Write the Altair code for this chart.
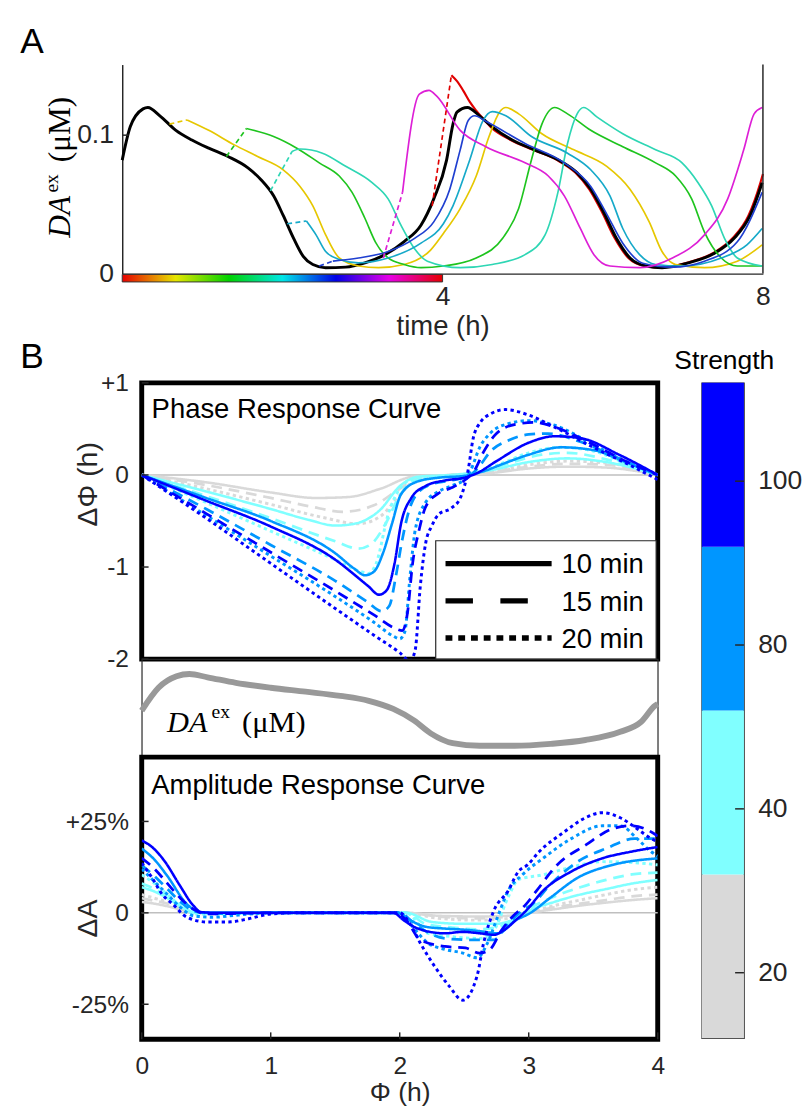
import altair as alt
import pandas as pd

FONT = "Liberation Sans"
SERIF = "Liberation Serif"
INK = "#262626"

# ====================== Panel A data (time in h, DA^ex in uM) ======================
a_black_t = [0.0, 0.10, 0.26, 0.32, 0.47, 0.67, 0.87, 1.08, 1.32, 1.57, 1.73, 1.89, 2.01, 2.14, 2.26,
             2.38, 2.54, 2.79, 3.03, 3.28, 3.52, 3.73, 3.89, 4.05, 4.13, 4.18, 4.31, 4.46, 4.62, 4.87,
             5.15, 5.44, 5.68, 5.85, 6.01, 6.17, 6.34, 6.54, 6.74, 7.07, 7.40, 7.64, 7.84, 7.99]
a_black_v = [0.082, 0.106, 0.119, 0.120, 0.114, 0.1035, 0.0965, 0.0906, 0.0846, 0.0764, 0.068, 0.0562,
             0.042, 0.0255, 0.0125, 0.0066, 0.0043, 0.0047, 0.0078, 0.0137, 0.0232, 0.035, 0.054, 0.082,
             0.108, 0.1166, 0.120, 0.114, 0.106, 0.0965, 0.0894, 0.0823, 0.0728, 0.061, 0.0445, 0.0255,
             0.0113, 0.0055, 0.0043, 0.0078, 0.0149, 0.0255, 0.042, 0.0657]

a_yellow_jump_t = [0.59, 0.81]
a_yellow_jump_v = [0.108, 0.111]
a_yellow_t = [0.81, 1.08, 1.40, 1.69, 2.01, 2.22, 2.38, 2.54, 2.71, 2.95, 3.20, 3.52, 3.85, 4.01, 4.22,
              4.42, 4.58, 4.71, 4.79, 4.95, 5.24, 5.64, 6.05, 6.34, 6.58, 6.74, 6.91, 7.27, 7.68, 7.99]
a_yellow_v = [0.111, 0.1035, 0.093, 0.0846, 0.075, 0.063, 0.049, 0.028, 0.0113, 0.0055, 0.0043, 0.0066,
              0.017, 0.029, 0.047, 0.0705, 0.099, 0.1166, 0.120, 0.1154, 0.101, 0.0894, 0.0775, 0.061,
              0.0374, 0.016, 0.0066, 0.0043, 0.009, 0.0208]

a_green_jump_t = [1.30, 1.55]
a_green_jump_v = [0.0846, 0.1048]
a_green_t = [1.55, 1.89, 2.18, 2.46, 2.71, 2.87, 3.03, 3.16, 3.32, 3.52, 3.73, 4.01, 4.42, 4.75, 4.95,
             5.11, 5.24, 5.40, 5.56, 5.85, 6.25, 6.66, 6.91, 7.11, 7.27, 7.48, 7.68, 7.99]
a_green_v = [0.1048, 0.099, 0.0906, 0.080, 0.0705, 0.0587, 0.040, 0.023, 0.0113, 0.0066, 0.0043, 0.0055,
             0.0113, 0.0255, 0.047, 0.0823, 0.108, 0.120, 0.1154, 0.1035, 0.0917, 0.080, 0.0705, 0.054,
             0.030, 0.0113, 0.0055, 0.0055]

a_turq_jump_t = [1.85, 2.12]
a_turq_jump_v = [0.0598, 0.0882]
a_turq_t = [2.12, 2.22, 2.50, 2.79, 3.12, 3.32, 3.48, 3.65, 3.81, 4.22, 4.62, 5.03, 5.28, 5.44, 5.56,
            5.68, 5.76, 5.93, 6.25, 6.66, 6.99, 7.19, 7.36, 7.52, 7.68, 7.99]
a_turq_v = [0.0882, 0.090, 0.087, 0.0775, 0.0657, 0.054, 0.035, 0.018, 0.009, 0.0043, 0.0066, 0.0137,
            0.028, 0.0587, 0.094, 0.1154, 0.120, 0.113, 0.101, 0.0894, 0.080, 0.0657, 0.049, 0.0255,
            0.0113, 0.0055]

a_teal_jump_t = [2.06, 2.30]
a_teal_jump_v = [0.036, 0.038]
a_teal_t = [2.30, 2.42, 2.54, 2.71, 2.95, 3.32, 3.73, 4.01, 4.13, 4.34, 4.50, 4.62, 4.79, 5.11, 5.56,
            5.85, 6.09, 6.25, 6.46, 6.66, 6.99, 7.48, 7.80, 7.99]
a_teal_v = [0.038, 0.028, 0.016, 0.0102, 0.0078, 0.0113, 0.022, 0.036, 0.049, 0.0823, 0.110, 0.117,
            0.114, 0.099, 0.087, 0.075, 0.0562, 0.0326, 0.0137, 0.0066, 0.0055, 0.0113, 0.0208, 0.0326]

a_blue_jump_t = [2.46, 2.63]
a_blue_jump_v = [0.0055, 0.009]
a_blue_t = [2.63, 2.95, 3.32, 3.65, 3.89, 4.09, 4.22, 4.32, 4.40, 4.54, 5.03, 5.52, 5.85, 6.05, 6.25,
            6.50, 6.87, 7.27, 7.68, 7.99]
a_blue_v = [0.009, 0.0113, 0.016, 0.0255, 0.0374, 0.061, 0.0894, 0.1106, 0.114, 0.110, 0.094, 0.080,
            0.063, 0.043, 0.022, 0.0075, 0.0047, 0.009, 0.023, 0.0587]

a_mag_jump_t = [3.26, 3.50]
a_mag_jump_v = [0.0113, 0.0587]
a_mag_t = [3.50, 3.71, 3.83, 3.93, 4.22, 4.54, 5.03, 5.32, 5.52, 5.72, 5.89, 6.09, 6.46, 6.87, 7.27,
           7.56, 7.76, 7.89, 7.99]
a_mag_v = [0.0587, 0.1296, 0.1324, 0.128, 0.1035, 0.0917, 0.080, 0.0705, 0.0562, 0.0326, 0.0137,
           0.0055, 0.0043, 0.0113, 0.028, 0.054, 0.0894, 0.1154, 0.120]

a_red_jump_t = [3.87, 4.11]
a_red_jump_v = [0.049, 0.1433]
a_red_t = [4.11, 4.18, 4.26, 4.34, 4.42, 4.52, 4.60, 4.85, 5.13, 5.42, 5.66, 5.83, 5.99, 6.15, 6.32,
           6.52, 6.72, 7.05, 7.38, 7.62, 7.82, 7.97, 8.0]
a_red_v = [0.1433, 0.139, 0.132, 0.124, 0.1177, 0.111, 0.106, 0.0965, 0.0894, 0.0823, 0.0728, 0.061,
           0.0445, 0.0255, 0.0113, 0.0055, 0.0043, 0.0078, 0.0149, 0.0255, 0.042, 0.066, 0.072]

a_curve_names = ["yellow", "green", "turquoise", "teal", "blue", "magenta", "red"]
a_curve_colors = ["#e6c700", "#1ec41e", "#2ed6b4", "#16a9c9", "#1f3fd0", "#dd1fd6", "#e00000"]

a_x_ticks = [4, 8]
a_y_ticks = [0, 0.1]
a_stim_span = [0, 4]
rainbow_colors = ["#e60000", "#e6e600", "#00d200", "#00e6e6", "#0000e6", "#e600e6", "#e60000"]
rainbow_offsets = [0.0, 0.167, 0.333, 0.5, 0.667, 0.833, 1.0]

# ====================== Panel B data ======================
strength_labels = ["20", "40", "80", "100"]
strength_colors = ["#d9d9d9", "#80ffff", "#0096ff", "#0000ff"]
duration_keys = ["10", "15", "20"]
duration_labels = ["10 min", "15 min", "20 min"]

# Phase response curves (phi in h, delta phi in h)
prc_20_10_phi = [0, 0.5, 1.0, 1.35, 1.6, 1.85, 2.1, 2.4, 2.7, 3.0, 3.3, 3.6, 4.0]
prc_20_10_val = [0, -0.08, -0.19, -0.25, -0.24, -0.15, -0.02, 0, 0.02, 0.07, 0.09, 0.08, 0]
prc_20_15_phi = [0, 0.5, 1.0, 1.3, 1.56, 1.8, 2.0, 2.15, 2.4, 2.7, 3.0, 3.3, 3.6, 4.0]
prc_20_15_val = [0, -0.11, -0.25, -0.34, -0.40, -0.33, -0.15, -0.03, 0, 0.03, 0.09, 0.12, 0.11, 0]
prc_20_20_phi = [0, 0.5, 1.0, 1.4, 1.68, 1.85, 2.0, 2.15, 2.4, 2.7, 3.0, 3.3, 3.6, 4.0]
prc_20_20_val = [0, -0.15, -0.32, -0.46, -0.53, -0.45, -0.22, -0.03, 0, 0.03, 0.11, 0.15, 0.13, 0]
prc_40_10_phi = [0, 0.5, 1.0, 1.3, 1.5, 1.65, 1.84, 2.01, 2.14, 2.4, 2.7, 3.0, 3.3, 3.6, 4.0]
prc_40_10_val = [0, -0.18, -0.37, -0.49, -0.55, -0.53, -0.39, -0.11, -0.02, 0, 0.05, 0.14, 0.18, 0.14, 0]
prc_40_15_phi = [0, 0.5, 1.0, 1.5, 1.68, 1.78, 1.89, 1.99, 2.1, 2.3, 2.5, 2.7, 2.9, 3.1, 3.3, 3.6, 4.0]
prc_40_15_val = [0, -0.23, -0.47, -0.72, -0.80, -0.75, -0.53, -0.25, -0.07, -0.02, 0.0, 0.06, 0.15, 0.22,
                 0.24, 0.17, 0]
prc_40_20_phi = [0, 0.5, 1.0, 1.5, 1.7, 1.76, 1.82, 1.91, 2.0, 2.1, 2.3, 2.5, 2.65, 2.8, 3.0, 3.25, 3.5,
                 3.75, 4.0]
prc_40_20_val = [0, -0.3, -0.61, -0.92, -1.05, -1.07, -0.95, -0.43, -0.15, -0.05, -0.02, 0.0, 0.05, 0.13,
                 0.24, 0.30, 0.26, 0.13, 0]
prc_80_10_phi = [0, 0.5, 1.0, 1.5, 1.65, 1.73, 1.8, 1.87, 1.94, 2.01, 2.14, 2.3, 2.5, 2.65, 2.8, 3.0,
                 3.25, 3.5, 3.75, 4.0]
prc_80_10_val = [0, -0.25, -0.5, -0.85, -1.02, -1.09, -1.05, -0.85, -0.53, -0.21, -0.07, -0.03, -0.01,
                 0.04, 0.12, 0.22, 0.30, 0.27, 0.14, 0]
prc_80_15_phi = [0, 0.5, 1.0, 1.5, 1.75, 1.86, 1.92, 1.97, 2.02, 2.08, 2.15, 2.25, 2.4, 2.55, 2.62, 2.7,
                 2.85, 3.0, 3.15, 3.4, 3.7, 4.0]
prc_80_15_val = [0, -0.37, -0.76, -1.15, -1.38, -1.48, -1.42, -1.1, -0.7, -0.35, -0.18, -0.1, -0.06, 0.0,
                 0.1, 0.25, 0.38, 0.44, 0.45, 0.36, 0.18, 0]
prc_80_20_phi = [0, 0.5, 1.0, 1.5, 1.8, 1.95, 2.0, 2.04, 2.08, 2.12, 2.2, 2.3, 2.4, 2.5, 2.55, 2.62, 2.7,
                 2.85, 3.0, 3.2, 3.5, 3.75, 4.0]
prc_80_20_val = [0, -0.44, -0.88, -1.32, -1.6, -1.75, -1.78, -1.7, -1.1, -0.6, -0.3, -0.18, -0.12, -0.05,
                 0.05, 0.3, 0.45, 0.56, 0.59, 0.54, 0.33, 0.15, 0]
prc_100_10_phi = [0, 0.5, 1.0, 1.5, 1.75, 1.84, 1.9, 1.96, 2.01, 2.09, 2.2, 2.35, 2.5, 2.6, 2.75, 3.0,
                  3.2, 3.4, 3.7, 4.0]
prc_100_10_val = [0, -0.28, -0.56, -0.92, -1.2, -1.30, -1.25, -0.96, -0.53, -0.25, -0.12, -0.06, -0.03,
                  0.02, 0.15, 0.35, 0.42, 0.40, 0.22, 0]
prc_100_15_phi = [0, 0.5, 1.0, 1.5, 1.8, 1.97, 2.02, 2.06, 2.1, 2.15, 2.2, 2.3, 2.4, 2.5, 2.58, 2.65,
                  2.75, 2.9, 3.05, 3.2, 3.5, 3.75, 4.0]
prc_100_15_val = [0, -0.42, -0.84, -1.26, -1.52, -1.67, -1.69, -1.5, -0.96, -0.6, -0.35, -0.2, -0.14,
                  -0.06, 0.05, 0.25, 0.45, 0.55, 0.57, 0.52, 0.33, 0.15, 0]
prc_100_20_phi = [0, 0.5, 1.0, 1.5, 1.8, 2.0, 2.08, 2.12, 2.16, 2.2, 2.25, 2.3, 2.4, 2.47, 2.53, 2.57,
                  2.63, 2.7, 2.82, 3.0, 3.2, 3.5, 3.75, 4.0]
prc_100_20_val = [0, -0.47, -0.96, -1.45, -1.74, -1.93, -2.02, -1.9, -1.2, -0.75, -0.55, -0.43, -0.36,
                  -0.25, 0.05, 0.4, 0.58, 0.66, 0.71, 0.65, 0.52, 0.30, 0.13, -0.05]

# Amplitude response curves (phi in h, delta A in %)
arc_20_phi = [0, 0.1, 0.2, 0.3, 0.42, 1.0, 1.5, 2.05, 2.3, 2.6, 2.85, 3.0, 3.2, 3.4, 3.6, 3.8, 4.0]
arc_20_10_val = [3, 2.5, 1.8, 0.9, 0, 0, 0, 0, -0.8, -1, -0.8, 0, 1, 2, 2.8, 3.5, 4]
arc_20_15_val = [4, 3.3, 2.5, 1.2, 0, 0, 0, 0, -1, -1.5, -1, 0, 1.5, 2.5, 3.5, 4.5, 5]
arc_20_20_val = [5, 4, 3, 1.5, 0, 0, 0, 0, -1.5, -2, -1.5, 0, 2, 3.5, 5, 6.3, 7]
arc_40_10_phi = [0, 0.1, 0.2, 0.3, 0.42, 1.0, 1.5, 2.05, 2.25, 2.5, 2.75, 2.9, 3.0, 3.2, 3.4, 3.6, 3.8, 4.0]
arc_40_10_val = [7, 5.8, 4, 1.8, 0, 0, 0, 0, -2.5, -3, -3, -1.5, 0.5, 3, 5, 6.5, 8, 9]
arc_40_15_phi = [0, 0.1, 0.2, 0.3, 0.42, 0.6, 1.0, 1.5, 2.05, 2.2, 2.4, 2.6, 2.75, 2.9, 3.0, 3.2, 3.4,
                 3.6, 3.8, 4.0]
arc_40_15_val = [8, 6.5, 4.5, 2, 0, -0.2, 0, 0, 0, -3, -4, -4.5, -4, -1.5, 1, 4.5, 7, 9, 10.5, 11]
arc_40_20_phi = [0, 0.1, 0.2, 0.3, 0.42, 0.6, 1.0, 1.5, 2.05, 2.22, 2.4, 2.62, 2.73, 2.84, 2.92, 3.11,
                 3.3, 3.57, 3.87, 4.0]
arc_40_20_val = [10.4, 8, 5, 2, -0.3, -0.3, 0, 0, 0, -5.6, -6.5, -7, -4.7, 4.2, 9.1, 10.4, 12.2, 14,
                 13.6, 13.1]
arc_80_10_phi = [0, 0.1, 0.2, 0.35, 0.45, 0.6, 1.0, 1.5, 1.98, 2.08, 2.2, 2.35, 2.5, 2.62, 2.76, 2.9,
                 3.0, 3.17, 3.38, 3.65, 4.0]
arc_80_10_val = [17.6, 14.5, 10, 2.4, 0.2, 0, 0, 0, 0, -2, -3.8, -4.3, -4.6, -5, -5.6, -2, -0.3, 4.2,
                 9.6, 13.1, 14.9]
arc_80_15_phi = [0, 0.1, 0.2, 0.3, 0.42, 0.6, 1.0, 1.5, 2.0, 2.1, 2.2, 2.35, 2.57, 2.73, 2.84, 2.95,
                 3.03, 3.17, 3.38, 3.6, 3.82, 4.0]
arc_80_15_val = [13, 10, 6.5, 3, 0.3, -0.2, 0, 0, 0, -2.5, -5, -7, -7.4, -7.4, -3, 0.6, 2.4, 7.8, 14,
                 17.6, 20.3, 20.3]
arc_80_20_phi = [0, 0.1, 0.2, 0.3, 0.4, 0.55, 0.75, 1.0, 1.5, 2.0, 2.08, 2.22, 2.35, 2.49, 2.6, 2.68,
                 2.76, 2.84, 2.95, 3.11, 3.33, 3.57, 3.71, 3.84, 3.95, 4.0]
arc_80_20_val = [12, 8.5, 5, 1.5, -0.8, -1.2, -0.6, 0, 0, 0, -3, -8.3, -10, -11, -12.3, -8.3, -1, 6,
                 10.4, 14.9, 20.3, 23.8, 23.8, 20.3, 16.7, 15.5]
arc_100_10_phi = [0, 0.08, 0.18, 0.29, 0.40, 0.46, 0.6, 1.0, 1.5, 1.95, 2.03, 2.14, 2.35, 2.49, 2.62,
                  2.73, 2.81, 2.9, 2.98, 3.11, 3.33, 3.57, 3.79, 4.0]
arc_100_10_val = [19.8, 18, 14, 7.8, 2, 0.2, 0, 0, 0, 0, -2, -4.3, -5.6, -5.2, -5.6, -6, -4.7, -2, 0.6,
                  6, 11.3, 14.9, 16.7, 18]
arc_100_15_phi = [0, 0.1, 0.2, 0.3, 0.4, 0.5, 0.7, 1.0, 1.5, 1.97, 2.05, 2.16, 2.35, 2.51, 2.62, 2.7,
                  2.79, 2.87, 2.98, 3.06, 3.22, 3.44, 3.65, 3.79, 3.9, 4.0]
arc_100_15_val = [15, 12, 8, 4, 1, -0.3, -0.2, 0, 0, 0, -2, -7.4, -9.2, -9.6, -11, -10, -4.7, -1.2, 2.4,
                  6, 13.1, 18.5, 23, 23.8, 23, 21]
arc_100_20_phi = [0, 0.08, 0.16, 0.24, 0.35, 0.51, 0.67, 0.83, 1.0, 1.2, 1.5, 2.0, 2.08, 2.16, 2.27,
                  2.38, 2.49, 2.6, 2.65, 2.73, 2.84, 2.92, 2.99, 3.08, 3.27, 3.44, 3.57, 3.71, 3.84,
                  3.95, 4.0]
arc_100_20_val = [13.6, 9.6, 5, 2.4, -1.2, -2.5, -2.5, -1.6, -0.3, 0, 0, 0, -3, -8.3, -14.6, -19.9,
                  -23.9, -17.2, -8.3, 0.6, 6, 11.3, 13.1, 16.7, 22, 26, 27.4, 26, 23, 20.3, 19.5]

# DA^ex over one cycle (strip between the two panels)
da_phi = [0, 0.13, 0.27, 0.37, 0.51, 0.73, 1.0, 1.27, 1.54, 1.76, 1.95, 2.11, 2.24, 2.41, 2.62, 2.89,
          3.17, 3.44, 3.71, 3.87, 3.98, 4.0]
da_val = [0.0614, 0.098, 0.1164, 0.120, 0.1148, 0.1059, 0.098, 0.0917, 0.085, 0.0771, 0.0641, 0.0457,
          0.0249, 0.0092, 0.005, 0.005, 0.0081, 0.0143, 0.0274, 0.0431, 0.0693, 0.072]

prc_y_ticks = [-2, -1, 0, 1]
arc_y_ticks = [-25, 0, 25]
phi_ticks = [0, 1, 2, 3, 4]
cbar_tick_pos = [0.4, 1.4, 2.4, 3.4]

# ====================== geometry (pixels) ======================
A_OFF = 19.9          # panel A axis starts this far left of panel B's axis
A_W, A_H = 634.1, 213.4
B_W = 526.7
PRC_H, STRIP_H, ARC_H = 282, 99.5, 288
CB_W, CB_H = 43, 669
DUMMY = pd.DataFrame({"k": [0]})


def rows(name, xs, ys, **tags):
    assert len(xs) == len(ys), name
    return [dict(curve=name, x=x, y=y, i=i, **tags) for i, (x, y) in enumerate(zip(xs, ys))]


def label(text, x, y, size, **kw):
    kw.setdefault("font", FONT)
    kw.setdefault("color", "black")
    kw.setdefault("align", "left")
    kw.setdefault("baseline", "alphabetic")
    return alt.Chart(DUMMY).mark_text(text=text, fontSize=size, **kw).encode(
        x=alt.value(x), y=alt.value(y))


# ====================== Panel A ======================
xA = alt.Scale(domain=[0, 8], range=[-A_OFF, A_W], nice=False, zero=False)
yA = alt.Scale(domain=[0, 0.151], nice=False)
xA_axis = alt.Axis(values=a_x_ticks, labelFontSize=27, labelPadding=11, labelFlush=False,
                   ticks=False, tickSize=0, grid=False, domainColor=INK, domainWidth=1.5,
                   title="time (h)", titleFontSize=28, titlePadding=3.6)
yA_axis = alt.Axis(values=a_y_ticks, labelExpr="datum.value == 0 ? '0' : '0.1'", labelFontSize=27,
                   labelPadding=9, ticks=False, tickSize=0, grid=False, domainColor=INK,
                   domainWidth=1.5, title=None, offset=A_OFF)


def XA(f):
    return alt.X(f, type="quantitative", scale=xA, axis=xA_axis)


def YA(f):
    return alt.Y(f, type="quantitative", scale=yA, axis=yA_axis)


solid_pairs = [("yellow", a_yellow_t, a_yellow_v), ("green", a_green_t, a_green_v),
               ("turquoise", a_turq_t, a_turq_v), ("teal", a_teal_t, a_teal_v),
               ("blue", a_blue_t, a_blue_v), ("magenta", a_mag_t, a_mag_v)]
jump_pairs = [("yellow", a_yellow_jump_t, a_yellow_jump_v), ("green", a_green_jump_t, a_green_jump_v),
              ("turquoise", a_turq_jump_t, a_turq_jump_v), ("teal", a_teal_jump_t, a_teal_jump_v),
              ("blue", a_blue_jump_t, a_blue_jump_v), ("magenta", a_mag_jump_t, a_mag_jump_v),
              ("red", a_red_jump_t, a_red_jump_v)]
solid_df = pd.DataFrame(sum([rows(n, t, v) for n, t, v in solid_pairs], []))
jump_df = pd.DataFrame(sum([rows(n, t, v) for n, t, v in jump_pairs], []))
red_df = pd.DataFrame(rows("red", a_red_t, a_red_v))
black_df = pd.DataFrame(rows("black", a_black_t, a_black_v))
a_color = alt.Color("curve:N", scale=alt.Scale(domain=a_curve_names, range=a_curve_colors), legend=None)

a_red = alt.Chart(red_df).mark_line(color="#e00000", strokeWidth=2.2, interpolate="monotone").encode(
    x=XA("x"), y=YA("y"), order="i:Q")
a_black = alt.Chart(black_df).mark_line(color="black", strokeWidth=3.0, interpolate="monotone").encode(
    x=XA("x"), y=YA("y"), order="i:Q")
a_solid = alt.Chart(solid_df).mark_line(strokeWidth=1.7, interpolate="monotone").encode(
    x=XA("x"), y=YA("y"), color=a_color, order="i:Q")
a_jump = alt.Chart(jump_df).mark_line(strokeWidth=1.7, strokeDash=[5, 3.5]).encode(
    x=XA("x"), y=YA("y"), color=a_color, order="i:Q")

rainbow = alt.Gradient(gradient="linear", x1=0, x2=1, y1=0, y2=0,
                       stops=[alt.GradientStop(color=c, offset=o)
                              for c, o in zip(rainbow_colors, rainbow_offsets)])
a_bar = alt.Chart(pd.DataFrame({"s": [a_stim_span[0]], "e": [a_stim_span[1]]})).mark_rect(
    fill=rainbow, stroke="#333333", strokeWidth=1).encode(
    x=XA("s"), x2="e:Q", y=alt.value(A_H + 0.8), y2=alt.value(A_H + 8.5))
a_spine = alt.Chart(pd.DataFrame({"v": [8]})).mark_rule(color=INK, strokeWidth=1.5).encode(
    x=XA("v"), y=alt.value(0), y2=alt.value(A_H))
a_ytick = alt.Chart(pd.DataFrame({"v": [0.1]})).mark_rule(color=INK, strokeWidth=1.5).encode(
    y=YA("v"), x=alt.value(-A_OFF), x2=alt.value(-A_OFF + 6.5))

a_ylabel_parts = ["DA", "ex", "(μM)"]
YL_X, YL_Y = -53.7 - A_OFF, 176.7
a_yl1 = label(a_ylabel_parts[0], YL_X, YL_Y, 32, font=SERIF, fontStyle="italic", angle=270)
a_yl2 = label(a_ylabel_parts[1], YL_X, YL_Y, 20, font=SERIF, angle=270, dx=46, dy=-12)
a_yl3 = label(a_ylabel_parts[2], YL_X, YL_Y, 32, font=SERIF, angle=270, dx=77)
a_letter = label("A", -104.2 - A_OFF, -12.3, 36)

panel_a = alt.layer(a_red, a_black, a_solid, a_jump, a_bar, a_spine, a_ytick,
                    a_yl1, a_yl2, a_yl3, a_letter).properties(width=A_W, height=A_H)

# ====================== Panel B ======================
xB = alt.Scale(domain=[0, 4], nice=False, zero=False)
yP = alt.Scale(domain=[-2, 1], nice=False, zero=False)
yS = alt.Scale(domain=[-0.0123, 0.1439], nice=False, zero=False)
yR = alt.Scale(domain=[-34.57, 42.6], nice=False, zero=False)
yC = alt.Scale(domain=[0, 4], nice=False, zero=False)

prc_axis = alt.Axis(values=prc_y_ticks,
                    labelExpr="datum.value > 0 ? '+' + datum.value : (datum.value < 0 ? '-' + abs(datum.value) : '0')",
                    labelFontSize=25, labelPadding=13.5, ticks=False, tickSize=0, domain=False,
                    grid=False, title=None)
arc_axis = alt.Axis(values=arc_y_ticks,
                    labelExpr="datum.value > 0 ? '+' + datum.value + '%' : (datum.value < 0 ? '-' + abs(datum.value) + '%' : '0')",
                    labelFontSize=25, labelPadding=13.5, ticks=False, tickSize=0, domain=False,
                    grid=False, title=None)
arc_x_axis = alt.Axis(values=phi_ticks, labelFontSize=25, labelPadding=15, labelFlush=False,
                      ticks=False, tickSize=0, domain=False, grid=False, title="Φ (h)",
                      titleFontSize=27, titlePadding=1.7)


def curves_df(entries):
    out = []
    for s, d, xs, ys in entries:
        out += rows(f"{s}_{d}", xs, ys, strength=s, dur=d)
    return pd.DataFrame(out)


prc_df = curves_df([
    ("20", "10", prc_20_10_phi, prc_20_10_val), ("20", "15", prc_20_15_phi, prc_20_15_val),
    ("20", "20", prc_20_20_phi, prc_20_20_val), ("40", "10", prc_40_10_phi, prc_40_10_val),
    ("40", "15", prc_40_15_phi, prc_40_15_val), ("40", "20", prc_40_20_phi, prc_40_20_val),
    ("80", "10", prc_80_10_phi, prc_80_10_val), ("80", "15", prc_80_15_phi, prc_80_15_val),
    ("80", "20", prc_80_20_phi, prc_80_20_val), ("100", "10", prc_100_10_phi, prc_100_10_val),
    ("100", "15", prc_100_15_phi, prc_100_15_val), ("100", "20", prc_100_20_phi, prc_100_20_val)])
arc_df = curves_df([
    ("20", "10", arc_20_phi, arc_20_10_val), ("20", "15", arc_20_phi, arc_20_15_val),
    ("20", "20", arc_20_phi, arc_20_20_val), ("40", "10", arc_40_10_phi, arc_40_10_val),
    ("40", "15", arc_40_15_phi, arc_40_15_val), ("40", "20", arc_40_20_phi, arc_40_20_val),
    ("80", "10", arc_80_10_phi, arc_80_10_val), ("80", "15", arc_80_15_phi, arc_80_15_val),
    ("80", "20", arc_80_20_phi, arc_80_20_val), ("100", "10", arc_100_10_phi, arc_100_10_val),
    ("100", "15", arc_100_15_phi, arc_100_15_val), ("100", "20", arc_100_20_phi, arc_100_20_val)])

s_color = alt.Color("strength:N", scale=alt.Scale(domain=strength_labels, range=strength_colors),
                    legend=None)
d_dash = alt.StrokeDash("dur:N", scale=alt.Scale(domain=duration_keys,
                                                   range=[[1, 0], [11, 7], [3.4, 3.4]]), legend=None)
d_width = alt.StrokeWidth("dur:N", scale=alt.Scale(domain=duration_keys, range=[2.6, 3.0, 3.4]),
                          legend=None)


def response_layers(df, yscale, yaxis, xaxis):
    zero = alt.Chart(pd.DataFrame({"v": [0]})).mark_rule(color="#bfbfbf", strokeWidth=1.5).encode(
        y=alt.Y("v:Q", scale=yscale, axis=yaxis))
    lines = alt.Chart(df).mark_line(clip=True, interpolate="monotone").encode(
        x=alt.X("x:Q", scale=xB, axis=xaxis), y=alt.Y("y:Q", scale=yscale, axis=yaxis),
        color=s_color, strokeDash=d_dash, strokeWidth=d_width, detail="curve:N", order="i:Q")
    return zero, lines


p_zero, p_lines = response_layers(prc_df, yP, prc_axis, None)
p_ticks = alt.Chart(pd.DataFrame({"v": prc_y_ticks})).mark_rule(color=INK, strokeWidth=1.5).encode(
    y=alt.Y("v:Q", scale=yP, axis=prc_axis), x=alt.value(0), x2=alt.value(7))
p_title = label("Phase Response Curve", 10.1, 36.2, 28)
p_letter = label("B", -124.1, -15.5, 36)
p_ylabel = label("ΔΦ (h)", -45.6, 103.5, 29, angle=270, align="center", color=INK)
leg_box = alt.Chart(DUMMY).mark_rect(fill="white", stroke=INK, strokeWidth=1.2).encode(
    x=alt.value(300.1), x2=alt.value(525.1), y=alt.value(161.2), y2=alt.value(PRC_H))
leg_dashes = [[1, 0], [28, 28], [7, 6]]
leg_rows_y = [184.5, 222.5, 260.5]
leg_layers = []
for lab, dash, yy in zip(duration_labels, leg_dashes, leg_rows_y):
    leg_layers.append(alt.Chart(DUMMY).mark_rule(color="black", strokeWidth=5.5, strokeDash=dash).encode(
        x=alt.value(310.1), x2=alt.value(418.4), y=alt.value(yy), y2=alt.value(yy)))
    leg_layers.append(label(lab, 428.4, yy + 2, 28, baseline="middle"))

prc_chart = alt.layer(p_zero, p_lines, p_ticks, leg_box, *leg_layers, p_title, p_letter, p_ylabel).properties(
    width=B_W, height=PRC_H, view=alt.ViewBackground(stroke="black", strokeWidth=5))

# strip with DA^ex
strip_df = pd.DataFrame(rows("da", da_phi, da_val))
s_line = alt.Chart(strip_df).mark_line(color="#999999", strokeWidth=6, interpolate="monotone").encode(
    x=alt.X("x:Q", scale=xB, axis=None), y=alt.Y("y:Q", scale=yS, axis=None), order="i:Q")
s_l1 = label("DA", 25.9, 74.2, 31, font=SERIF, fontStyle="italic")
s_l2 = label("ex", 71.3, 60.5, 20, font=SERIF)
s_l3 = label("(μM)", 102.4, 74.2, 31, font=SERIF)
strip_chart = alt.layer(s_line, s_l1, s_l2, s_l3).properties(
    width=B_W, height=STRIP_H, view=alt.ViewBackground(stroke=INK, strokeWidth=1.2))

# ARC
r_zero, r_lines = response_layers(arc_df, yR, arc_axis, arc_x_axis)
r_yticks = alt.Chart(pd.DataFrame({"v": arc_y_ticks})).mark_rule(color=INK, strokeWidth=1.5).encode(
    y=alt.Y("v:Q", scale=yR, axis=arc_axis), x=alt.value(0), x2=alt.value(7))
r_xticks = alt.Chart(pd.DataFrame({"v": phi_ticks})).mark_rule(color=INK, strokeWidth=1.5).encode(
    x=alt.X("v:Q", scale=xB, axis=arc_x_axis), y=alt.value(ARC_H), y2=alt.value(ARC_H - 7))
r_title = label("Amplitude Response Curve", 9.8, 38, 28)
r_ylabel = label("ΔA", -45.6, 164.7, 29, angle=270, align="center", color=INK)
arc_chart = alt.layer(r_zero, r_lines, r_yticks, r_xticks, r_title, r_ylabel).properties(
    width=B_W, height=ARC_H, view=alt.ViewBackground(stroke="black", strokeWidth=5))

# colour bar for strength
cb_df = pd.DataFrame({"lo": [0, 1, 2, 3], "hi": [1, 2, 3, 4], "strength": strength_labels})
cb_axis = alt.Axis(orient="right", values=cbar_tick_pos,
                   labelExpr=f"{strength_labels}[floor(datum.value)]", labelFontSize=27,
                   labelPadding=14, ticks=False, tickSize=0, domain=False, grid=False, title=None)
cb_rect = alt.Chart(cb_df).mark_rect().encode(
    y=alt.Y("lo:Q", scale=yC, axis=cb_axis), y2="hi:Q", x=alt.value(0), x2=alt.value(CB_W),
    color=s_color)
cb_ticks = alt.Chart(pd.DataFrame({"v": cbar_tick_pos})).mark_rule(color=INK, strokeWidth=1.5).encode(
    y=alt.Y("v:Q", scale=yC, axis=cb_axis), x=alt.value(CB_W - 9), x2=alt.value(CB_W))
cb_title = label("Strength", 23, -14, 27, align="center")
cb_twin = label("B", 0, -17, 36, opacity=0)
cbar = alt.layer(cb_rect, cb_ticks, cb_title, cb_twin).properties(
    width=CB_W, height=CB_H, view=alt.ViewBackground(stroke=INK, strokeWidth=1.3))

b_col = alt.vconcat(prc_chart, strip_chart, arc_chart, spacing=0, bounds="flush")
b_row = alt.hconcat(b_col, cbar, spacing=2.7)

chart = alt.vconcat(panel_a, b_row, spacing=-5.1).resolve_scale(
    color="independent", strokeDash="independent", strokeWidth="independent"
).properties(
    padding={"left": 9.5, "top": 4.2, "right": 0, "bottom": 0}
).configure(font=FONT).configure_view(stroke="transparent").configure_axis(
    labelFont=FONT, titleFont=FONT, labelColor=INK, titleColor=INK, titleFontWeight="normal")

chart.save("out.html", embed_options={"renderer": "svg", "actions": False})
